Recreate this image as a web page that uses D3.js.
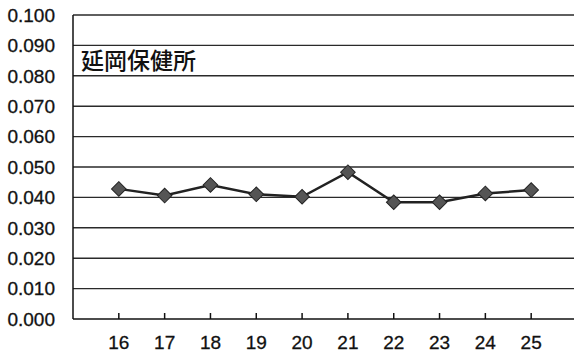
<!DOCTYPE html>
<html>
<head>
<meta charset="utf-8">
<script src="https://cdn.jsdelivr.net/npm/d3@7"></script>
<style>
  body { margin: 0; background: #fff; }
  svg { display: block; }
</style>
</head>
<body>
<svg id="chart" width="574" height="356"></svg>
<script>
var years = [16, 17, 18, 19, 20, 21, 22, 23, 24, 25];
var values = [0.0428, 0.0406, 0.0441, 0.0410, 0.0402, 0.0483, 0.0384, 0.0384, 0.0413, 0.0424];
var yTicks = [0, 0.01, 0.02, 0.03, 0.04, 0.05, 0.06, 0.07, 0.08, 0.09, 0.1];
var title = "延岡保健所";

var svg = d3.select("#chart"),
    width = +svg.attr("width"),
    height = +svg.attr("height");

// the category axis starts one slot before 16 and runs off the right edge
var x = d3.scaleLinear().domain([15, 26]).range([73, 577]);
var y = d3.scaleLinear().domain([0, 0.1]).range([319, 15]);

// gridlines
svg.append("g")
    .selectAll("line")
    .data(yTicks.filter(function (d) { return d > 0; }))
    .enter().append("line")
    .attr("x1", x(15))
    .attr("x2", width)
    .attr("y1", function (d) { return y(d); })
    .attr("y2", function (d) { return y(d); })
    .attr("stroke", "#2a2a2a")
    .attr("stroke-width", 1.4);

// y labels
svg.append("g")
    .selectAll("text")
    .data(yTicks)
    .enter().append("text")
    .attr("x", 55)
    .attr("y", function (d) { return y(d); })
    .attr("dy", "0.36em")
    .attr("text-anchor", "end")
    .attr("fill", "#111")
    .attr("stroke", "#111")
    .attr("stroke-width", 0.3)
    .style("font-family", "'Liberation Sans', Arial, sans-serif")
    .style("font-size", "19px")
    .text(function (d) { return d3.format(".3f")(d); });

// axes lines
svg.append("line")
    .attr("x1", x(15)).attr("x2", x(15))
    .attr("y1", y(0.1)).attr("y2", y(0))
    .attr("stroke", "#111").attr("stroke-width", 1.5);
svg.append("line")
    .attr("x1", x(15)).attr("x2", width)
    .attr("y1", y(0)).attr("y2", y(0))
    .attr("stroke", "#111").attr("stroke-width", 1.5);

// x ticks (inside) and labels
var xg = svg.append("g");
xg.selectAll("line")
    .data(years)
    .enter().append("line")
    .attr("x1", function (d) { return x(d); })
    .attr("x2", function (d) { return x(d); })
    .attr("y1", y(0))
    .attr("y2", y(0) - 6)
    .attr("stroke", "#111")
    .attr("stroke-width", 1.5);
xg.selectAll("text")
    .data(years)
    .enter().append("text")
    .attr("x", function (d) { return x(d); })
    .attr("y", 342)
    .attr("dy", "0.36em")
    .attr("text-anchor", "middle")
    .attr("fill", "#111")
    .attr("stroke", "#111")
    .attr("stroke-width", 0.3)
    .style("font-family", "'Liberation Sans', Arial, sans-serif")
    .style("font-size", "19px")
    .text(function (d) { return d; });

// title
svg.append("text")
    .attr("x", 81)
    .attr("y", 61)
    .attr("dy", "0.36em")
    .attr("fill", "#111")
    .style("font-family", "'Noto Sans CJK JP', sans-serif")
    .style("font-size", "23px")
    .style("font-weight", 500)
    .text(title);

// series line
var line = d3.line()
    .x(function (d, i) { return x(years[i]); })
    .y(function (d) { return y(d); });

svg.append("path")
    .datum(values)
    .attr("d", line)
    .attr("fill", "none")
    .attr("stroke", "#222")
    .attr("stroke-width", 2.5);

// diamond markers
var diamond = d3.symbol().type(d3.symbolSquare).size(106);
svg.append("g")
    .selectAll("path")
    .data(values)
    .enter().append("path")
    .attr("d", diamond)
    .attr("transform", function (d, i) {
        return "translate(" + x(years[i]) + "," + y(d) + ") rotate(45)";
    })
    .attr("fill", "#555")
    .attr("stroke", "#222")
    .attr("stroke-width", 1);
</script>
</body>
</html>
